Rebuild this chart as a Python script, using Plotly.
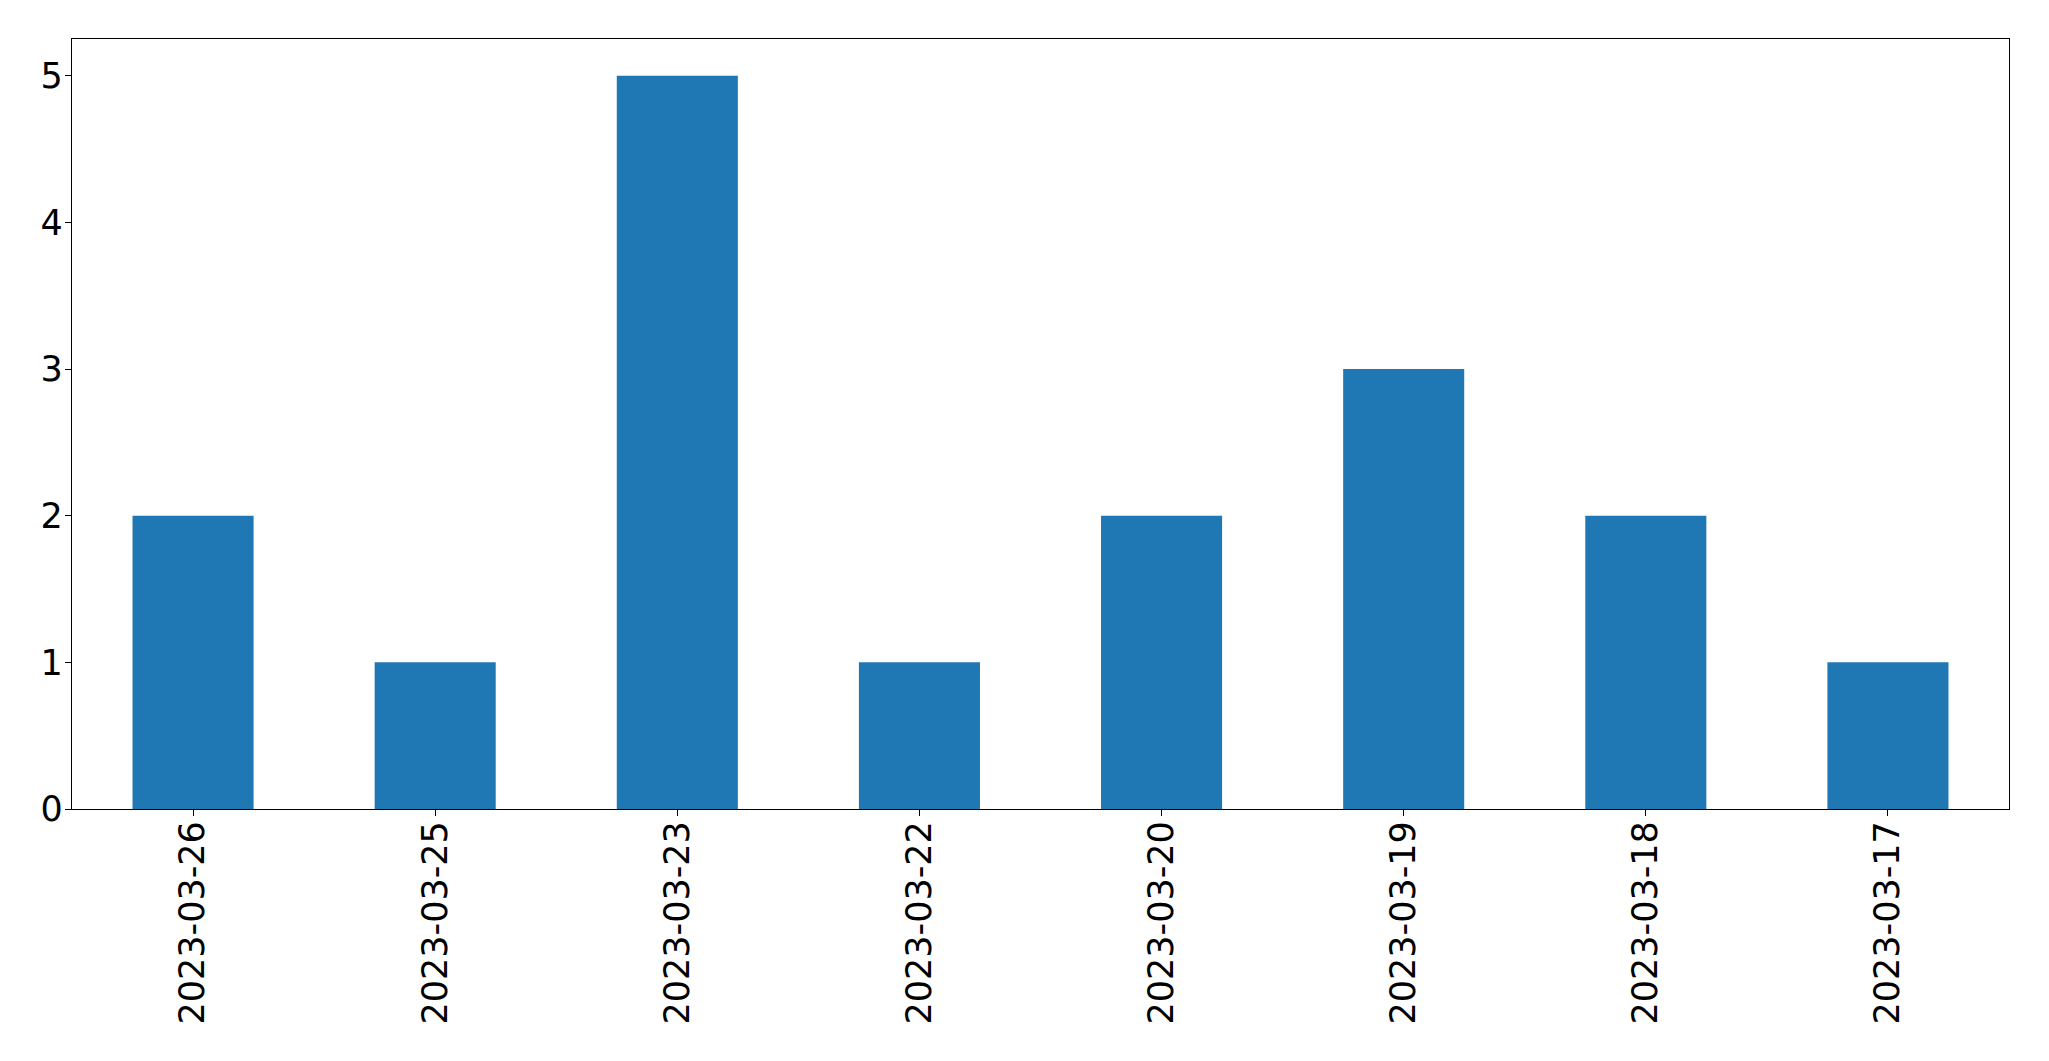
import plotly.graph_objects as go

dates = ["2023-03-26", "2023-03-25", "2023-03-23", "2023-03-22",
         "2023-03-20", "2023-03-19", "2023-03-18", "2023-03-17"]
counts = [2, 1, 5, 1, 2, 3, 2, 1]
y_ticks = [0, 1, 2, 3, 4, 5]

fig = go.Figure(go.Bar(x=dates, y=counts, marker_color="#1f77b4",
                       marker_line_width=0, width=0.5))

axis_common = dict(showline=True, linecolor="black", linewidth=1.3, mirror=True,
                   ticks="outside", ticklen=6, tickwidth=1.3, tickcolor="black",
                   showgrid=False, zeroline=False, automargin=False,
                   tickfont=dict(family="DejaVu Sans", size=35, color="black"))

fig.update_layout(
    width=2049, height=1061,
    margin=dict(l=64, r=48, t=31, b=260),
    plot_bgcolor="white", paper_bgcolor="white",
    showlegend=False,
    xaxis=dict(type="category", range=[-0.5, 7.5], tickangle=-90,
               ticklabelstandoff=-9, **axis_common),
    yaxis=dict(range=[0, 5.25], tickvals=y_ticks, ticklabelstandoff=-5, **axis_common),
)

fig.write_html("out.html")
